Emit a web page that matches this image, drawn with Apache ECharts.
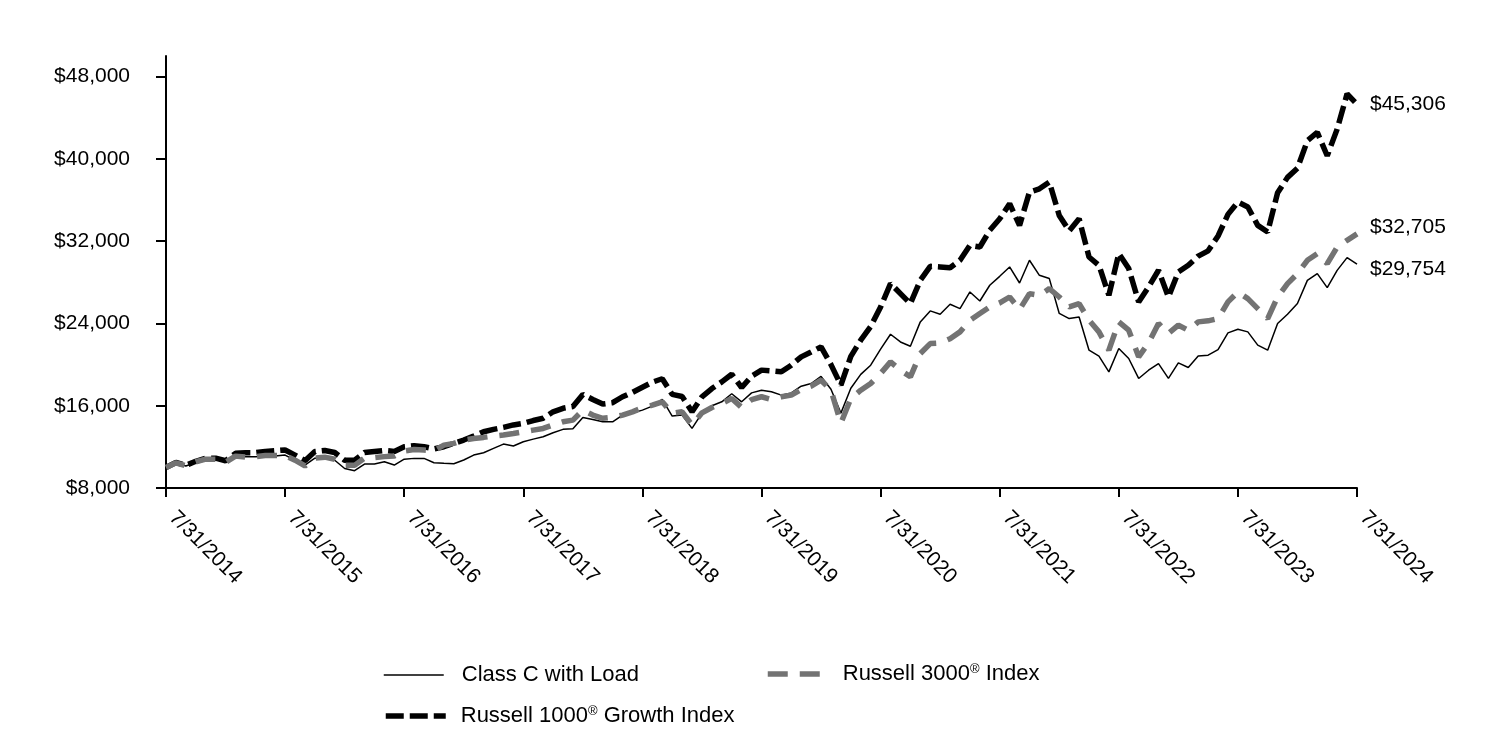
<!DOCTYPE html>
<html>
<head>
<meta charset="utf-8">
<script src="https://cdn.jsdelivr.net/npm/echarts@6/dist/echarts.min.js"></script>
<style>html,body{margin:0;padding:0;background:#fff;}#c{width:1500px;height:732px;}</style>
</head>
<body>
<div id="c"></div>
<script>
// Tick labels on the x axis (yearly) and y axis values
const xTickLabels = ['7/31/2014','7/31/2015','7/31/2016','7/31/2017','7/31/2018','7/31/2019','7/31/2020','7/31/2021','7/31/2022','7/31/2023','7/31/2024'];
const yTickValues = [8000, 16000, 24000, 32000, 40000, 48000];

// Monthly categories 7/31/2014 .. 7/31/2024
const categories = [];
for (let k = 0; k <= 120; k++) {
  const m = (6 + k) % 12;          // 0-based month
  const y = 2014 + Math.floor((6 + k) / 12);
  const d = new Date(y, m + 1, 0).getDate();
  categories.push((m + 1) + '/' + d + '/' + y);
}

const classC = [10000,10460,10140,10480,10880,10800,10550,11100,11050,11050,11080,11100,11200,10700,10230,10900,11000,10700,9900,9680,10330,10330,10550,10230,10800,10880,10880,10460,10400,10360,10720,11200,11430,11850,12270,12080,12500,12750,12980,13370,13700,13760,14860,14660,14440,14440,15090,15300,15570,15960,16610,14990,15090,13800,15280,15990,16380,17160,16380,17250,17510,17350,17030,17250,17900,18160,18850,17600,15280,17700,19050,19940,21500,22950,22200,21780,24150,25220,24900,25860,25440,27060,26180,27710,28580,29490,27930,30140,28680,28360,24970,24470,24630,21400,20830,19290,21560,20590,18650,19450,20100,18650,20160,19710,20830,20910,21460,23080,23430,23180,21890,21400,23990,24900,25930,28190,28840,27480,29160,30400,29754];

const russell1000G = [10000,10480,10200,10600,10900,10900,10650,11370,11430,11430,11550,11620,11700,11200,10650,11550,11650,11450,10700,10700,11450,11550,11650,11550,12000,12110,12010,11800,12010,12340,12660,13050,13470,13700,13890,14130,14280,14560,14780,15410,15750,15920,17100,16610,16160,16290,16870,17300,17800,18290,18620,17100,16900,15410,16870,17670,18320,19060,17770,18870,19460,19390,19300,19940,20750,21230,21720,20000,18000,20800,22370,23700,25600,27870,26900,25930,28190,29550,29490,29420,30140,31590,31430,33050,34170,35640,33530,36770,37090,37740,34500,33000,34180,30460,29650,26740,30790,29330,26090,27550,29170,26570,29010,29650,30550,31060,32500,34600,35800,35320,33530,32890,36700,38200,39100,41760,42570,40300,42890,46320,45306];

const russell3000 = [10000,10450,10150,10550,10800,10800,10500,11100,11000,11050,11150,11150,11150,10700,10140,10900,11000,10800,10200,10200,10900,10950,11050,11100,11600,11750,11690,11620,12170,12340,12660,12820,12920,13050,13150,13300,13470,13630,13790,14130,14440,14600,15570,15090,14780,14880,15090,15400,15800,16050,16380,15250,15410,14120,15310,15830,16220,16710,15830,16600,16870,16600,16870,17030,17580,17900,18480,17510,14300,16710,17510,18160,19130,20260,19450,18810,21070,22040,22100,22520,23180,24310,24960,25600,26000,26570,25350,26900,26740,27380,26570,25600,25930,24310,23180,21400,24150,23340,20750,22100,23990,23020,23830,23340,24150,24250,24470,26090,27060,26410,25440,24470,26570,27870,28840,30140,30790,29810,31430,32080,32705];

const FONT = "'Liberation Sans', Arial, sans-serif";
function money(v) { return '$' + String(Math.round(v)).replace(/\B(?=(\d{3})+(?!\d))/g, ','); }

const chart = echarts.init(document.getElementById('c'), null, {renderer: 'canvas'});
function legendText(padLeft) {
  return {
    fontFamily: FONT, fontSize: 22, color: '#000', padding: [0, 0, 0, padLeft],
    rich: {
      t: {fontFamily: FONT, fontSize: 22, color: '#000', lineHeight: 26},
      s: {fontFamily: FONT, fontSize: 13, color: '#000', lineHeight: 14, verticalAlign: 'top', padding: [2, 0, 0, 0]}
    }
  };
}
function legendFmt(name) {
  const i = name.indexOf('®');
  if (i < 0) return '{t|' + name + '}';
  return '{t|' + name.slice(0, i) + '}{s|®}{t|' + name.slice(i + 1) + '}';
}
function mkLegend(name, left, top, lw, padLeft) {
  return {
    data: [name], left: left, top: top, padding: 0,
    itemWidth: 60, itemHeight: 20,
    itemStyle: {opacity: 0, borderWidth: 0},
    lineStyle: {width: lw},
    textStyle: legendText(padLeft), formatter: legendFmt
  };
}

chart.setOption({
  animation: false,
  backgroundColor: '#fff',
  textStyle: {fontFamily: FONT},
  grid: {left: 166, right: 143, top: 56, bottom: 244, containLabel: false},
  legend: [
    mkLegend('Class C with Load', 383, 664, 1.5, 13),
    mkLegend('Russell 3000® Index', 765, 661, 5.5, 10),
    mkLegend('Russell 1000® Growth Index', 383, 703, 5.5, 10)
  ],
  xAxis: {
    type: 'category',
    data: categories,
    boundaryGap: false,
    axisLine: {lineStyle: {color: '#000', width: 2}},
    axisTick: {show: true, interval: 11, length: 9, lineStyle: {color: '#000', width: 2}},
    axisLabel: {
      interval: 11, rotate: -45, margin: 20, padding: [0, 0, 0, 9],
      fontFamily: FONT, fontSize: 21, color: '#000',
      formatter: function (v, idx) { return xTickLabels[idx / 12] || v; }
    },
    splitLine: {show: false}
  },
  yAxis: {
    type: 'value',
    min: 8000, max: 50000,
    axisLine: {show: true, lineStyle: {color: '#000', width: 2}},
    axisTick: {show: true, length: 10, customValues: yTickValues, lineStyle: {color: '#000', width: 2}},
    axisLabel: {customValues: yTickValues, margin: 36, fontFamily: FONT, fontSize: 21, color: '#000', formatter: money},
    splitLine: {show: false}
  },
  series: [
    {
      name: 'Class C with Load', type: 'line', data: classC, symbol: 'none', z: 2,
      lineStyle: {color: '#000', width: 1.5, type: 'solid'}, itemStyle: {color: '#000'},
      endLabel: {show: true, formatter: function (p) { return money(p.value); }, fontFamily: FONT, fontSize: 21, color: '#000', distance: 13, offset: [0, 5]}
    },
    {
      name: 'Russell 1000® Growth Index', type: 'line', data: russell1000G, symbol: 'none', z: 3,
      lineStyle: {color: '#000', width: 5.5, type: [18, 6]}, itemStyle: {color: '#000'},
      endLabel: {show: true, formatter: function (p) { return money(p.value); }, fontFamily: FONT, fontSize: 21, color: '#000', distance: 13}
    },
    {
      name: 'Russell 3000® Index', type: 'line', data: russell3000, symbol: 'none', z: 4,
      lineStyle: {color: '#737373', width: 5.5, type: [20, 12]}, itemStyle: {color: '#737373'},
      endLabel: {show: true, formatter: function (p) { return money(p.value); }, fontFamily: FONT, fontSize: 21, color: '#000', distance: 13, offset: [0, -7]}
    }
  ]
});
</script>
</body>
</html>
